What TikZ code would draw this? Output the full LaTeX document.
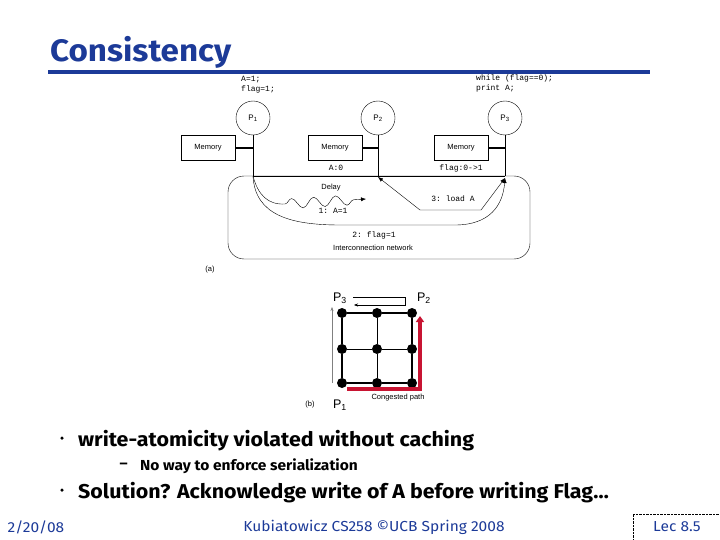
\documentclass[tikz,border=0pt]{standalone}
\usepackage{fontspec}
\setmainfont{Liberation Sans}
\setmonofont{Liberation Mono}
\newfontfamily\slidefont{Fira Sans}[FakeStretch=1.07]
\usetikzlibrary{positioning,decorations.pathmorphing,arrows.meta}
\definecolor{slideblue}{RGB}{28,58,152}
\definecolor{congred}{RGB}{200,20,50}

\begin{document}
\begin{tikzpicture}[x=1pt,y=-1pt,
    proc/.style={draw,circle,minimum size=34pt,inner sep=0pt,font=\fontsize{8}{9}\selectfont},
    mem/.style={draw,minimum width=54pt,minimum height=25pt,inner sep=0pt,font=\fontsize{7.5}{8}\selectfont},
    code/.style={font=\ttfamily\fontsize{8}{10}\selectfont,align=left,inner sep=0pt},
    lbl/.style={font=\fontsize{7.5}{8}\selectfont,inner sep=1pt},
    plbl/.style={font=\fontsize{12.5}{14}\selectfont,inner sep=0pt},
    dot/.style={circle,fill=black,minimum size=10pt,inner sep=0pt},
    bullet/.style={font=\slidefont\bfseries\fontsize{20}{22}\selectfont,anchor=west,inner sep=0pt},
    bulletmark/.style={circle,fill=black,minimum size=3.5pt,inner sep=0pt},
    subbullet/.style={font=\slidefont\bfseries\fontsize{14.5}{16}\selectfont,anchor=west,inner sep=0pt},
    foot/.style={text=slideblue,font=\slidefont\fontsize{14.5}{16}\selectfont,inner sep=0pt},
    tip/.style={-{Latex[length=5pt,width=4pt]}}]
    \useasboundingbox (0,0) rectangle (720,540);
    % title
    \node[anchor=base west,text=slideblue,inner sep=0pt,
          font=\slidefont\bfseries\fontsize{31}{36}\selectfont] (title) at (50,62) {Consistency};
    \fill[slideblue] (48,70) rectangle (650,74);

    % (a) processors, memories and bus
    \node[proc] (p1) at (253,118) {P\textsubscript{1}};
    \node[proc] (p2) at (378,118) {P\textsubscript{2}};
    \node[proc] (p3) at (505,118) {P\textsubscript{3}};
    \node[code,anchor=north west] (prog1) at (241,76) {A=1;\\flag=1;};
    \node[code,anchor=north west] (prog3) at (476,75) {while (flag==0);\\print A;};
    \node[mem] (m1) at (208,148) {Memory};
    \node[mem] (m2) at (335,148) {Memory};
    \node[mem] (m3) at (461,148) {Memory};
    \coordinate (b1) at (253,176);
    \coordinate (b2) at (378,176);
    \coordinate (b3) at (505,176);
    \draw (p1) -- (b1);
    \draw (p2) -- (b2);
    \draw (p3) -- (b3);
    \draw (b1) -- (b3);
    \draw[line width=1.5pt] (m1.east) -- (m1.east -| b1);
    \draw[line width=1.5pt] (m2.east) -- (m2.east -| b2);
    \draw[line width=1.5pt] (m3.east) -- (m3.east -| b3);
    \node[code] (a0) at (336,168) {A:0};
    \node[code] (fl) at (461,168) {flag:0->1};

    % interconnection network
    \node[draw,rounded corners=16pt,minimum width=302pt,minimum height=83pt] (net) at (379,217.5) {};
    \node[lbl] (netlbl) at (373,248) {Interconnection network};
    \coordinate (dw) at (285,204);
    \coordinate (dend) at (366,199);
    \draw (b1) .. controls (258,195) and (268,205) .. (dw);
    \draw[tip,decorate,decoration={snake,amplitude=5pt,segment length=22pt,post=lineto,post length=6pt}] (dw) -- (dend);
    \node[lbl] (delay) at (331,188) {Delay};
    \node[code] (w1) at (333,211) {1: A=1};
    \draw[tip] (b1) .. controls (255,215) and (290,225) .. (340,225) -- (455,225)
        .. controls (490,225) and (503,205) .. ([yshift=-2pt]b3);
    \node[code] (w2) at (374,235) {2: flag=1};
    \draw[{Latex[length=5pt,width=4pt]}-{Latex[length=5pt,width=4pt]}] ([yshift=-1pt]b2) -- (420,210) -- (481,210) -- ([yshift=-2pt]b3);
    \node[code] (ld) at (453,199) {3: load A};
    \node[lbl] (capa) at (210,270) {(a)};

    % (b) mesh
    \foreach \i/\x in {1/342,2/377,3/412}
        \foreach \j/\y in {1/383,2/349,3/313}
            \node[dot] (g\i\j) at (\x,\y) {};
    \draw[line width=0.8pt] (g21) -- (g22) -- (g23);
    \draw[line width=0.8pt] (g12) -- (g22) -- (g32);
    \draw[line width=1.5pt] (g11) -- (g12) -- (g13) -- (g23) -- (g33) -- (g32) -- (g31) -- (g21) -- (g11);
    \node[plbl] (lp3) at (340,298) {P\textsubscript{3}};
    \node[plbl] (lp2) at (424,298) {P\textsubscript{2}};
    \node[plbl] (lp1) at (340,405) {P\textsubscript{1}};
    \node[lbl] (capb) at (310,405) {(b)};
    \node[lbl] (cong) at (398,398) {Congested path};
    \coordinate (t1) at (353,297);
    \coordinate (t2) at (405,305);
    \coordinate (t3) at (354,305);
    \draw[-{Stealth[length=4pt,width=3pt]}] (t1) -| (t2) -- (t3);
    \coordinate (s1) at (332,383);
    \coordinate (s2) at (332,307);
    \draw[gray,-{Stealth[length=4pt,width=3pt]}] (s1) -- (s2);
    \coordinate (r1) at (347,389);
    \coordinate (r2) at (420,316);
    \draw[congred,line width=3.5pt,-{Triangle[length=6pt,width=8pt]}] (r1) -| (r2);

    % bullets
    \node[bullet] (l1) at (78,441) {write-atomicity violated without caching};
    \node[bulletmark] (l1m) at (62,438) {};
    \node[subbullet] (l2) at (140,466) {No way to enforce serialization};
    \node[subbullet,left=12pt of l2] (l2m) {–};
    \node[bullet] (l3) at (78,493) {Solution? Acknowledge write of A before writing Flag…};
    \node[bulletmark] (l3m) at (62,490) {};

    % footer
    \node[foot] (date) at (36,527) {2/20/08};
    \node[foot] (course) at (374,527) {Kubiatowicz CS258 ©UCB Spring 2008};
    \node[foot,draw=black,densely dotted,minimum width=88pt,minimum height=26pt] (lec) at (677,527) {Lec 8.5};
\end{tikzpicture}
\end{document}
